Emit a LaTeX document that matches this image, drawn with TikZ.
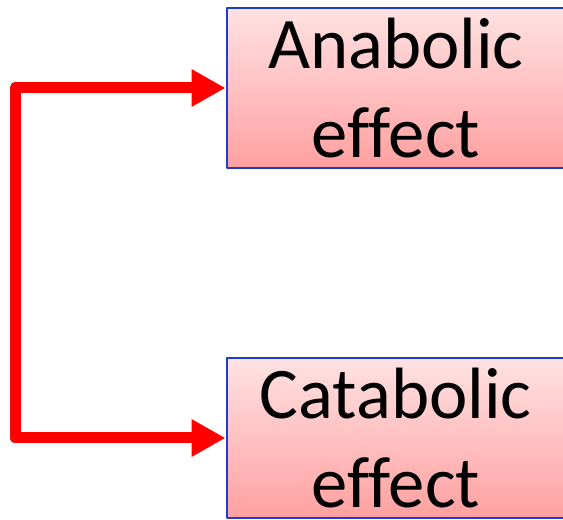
\documentclass[tikz,border=0pt]{standalone}
\usepackage{fontspec}
\setmainfont[Ligatures=NoCommon]{Carlito}
\usetikzlibrary{arrows.meta}
\definecolor{boxtop}{RGB}{255,226,226}
\definecolor{boxbottom}{RGB}{255,160,160}
\definecolor{boxline}{RGB}{30,60,205}
\tikzset{
  effectbox/.style={draw=boxline,line width=1.5pt,top color=boxtop,bottom color=boxbottom,
    minimum width=254pt,minimum height=120pt,inner sep=0pt,align=center,
    font=\fontsize{54.5}{67}\selectfont},
  effectlink/.style={<->,draw=red,line width=8.25pt}
}
\begin{document}
\begin{tikzpicture}[line cap=round,line join=round,>={Triangle[length=25.5pt,width=26.5pt]},x=0.75pt,y=0.75pt]
\useasboundingbox (0,0) rectangle (563,520);
\node[effectbox,anchor=west] (anabolic) at (225.5,432) {Anabolic\\effect};
\node[effectbox,anchor=west] (catabolic) at (225.5,82) {Catabolic\\effect};
\coordinate (spine) at (15,257);
\draw[effectlink] (anabolic.west) -| (spine) |- (catabolic.west);
\end{tikzpicture}
\end{document}
